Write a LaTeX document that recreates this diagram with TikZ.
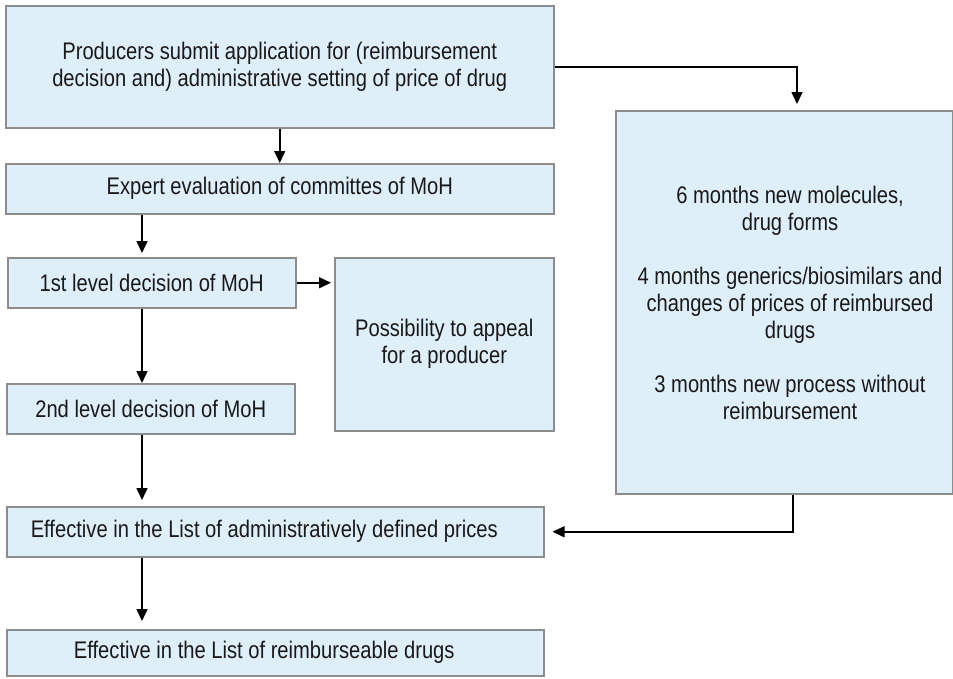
\documentclass[tikz,border=0pt]{standalone}
\usepackage{fontspec}
\setmainfont{Liberation Sans}[FakeStretch=0.84]
\usetikzlibrary{arrows.meta,calc}
\definecolor{boxfill}{RGB}{223,239,250}
\definecolor{boxline}{RGB}{140,140,140}
\definecolor{txt}{RGB}{25,25,25}
\begin{document}
\begin{tikzpicture}[x=1pt,y=-1pt,
  box/.style={draw=boxline, fill=boxfill, line width=1.5pt, inner sep=0pt,
    anchor=north west, align=center, text=txt,
    font=\fontsize{24}{27}\selectfont},
  plain/.style={inner sep=0pt, align=center, text=txt,
    font=\fontsize{24}{27}\selectfont},
  conn/.style={line width=1.5pt, -{Triangle[length=12pt,width=11pt]}}]
\useasboundingbox (0,0) rectangle (953,678);

\node[box, minimum width=548pt, minimum height=122pt] (b1) at (5,5)
  {Producers submit application for (reimbursement\\decision and) administrative setting of price of drug};
\node[box, minimum width=548pt, minimum height=50pt] (b2) at (5,163)
  {Expert evaluation of committes of MoH};
\node[box, minimum width=288pt, minimum height=50pt] (l1) at (7,257)
  {1st level decision of MoH};
\node[box, minimum width=219pt, minimum height=173pt] (ap) at (334,257)
  {Possibility to appeal\\for a producer};
\node[box, minimum width=288pt, minimum height=50pt] (l2) at (6,383)
  {2nd level decision of MoH};
\node[box, minimum width=537pt, minimum height=50pt] (ef) at (6,506)
  {\hspace*{-22pt}Effective in the List of administratively defined prices};
\node[box, minimum width=537pt, minimum height=46pt] (rd) at (6,629)
  {\hspace*{-22pt}Effective in the List of reimburseable drugs};
\node[box, minimum width=337pt, minimum height=383pt] (rt) at (615,110) {};
\node[plain] (rtx) at (790,303)
  {6 months new molecules,\\drug forms\\[27pt]4 months generics/biosimilars and\\changes of prices of reimbursed\\drugs\\[27pt]3 months new process without\\reimbursement};

\coordinate (colx) at (142,0);
\coordinate (ix) at (797,0);
\coordinate (ox) at (793,0);

\draw[conn] (b1.south) -- (b2.north);
\draw[conn] (b2.south -| colx) -- ($(l1.north -| colx)+(0,-4)$);
\draw[conn] (l1.south -| colx) -- (l2.north -| colx);
\draw[conn, shorten >=6pt] (l2.south -| colx) -- (ef.north -| colx);
\draw[conn, shorten >=8pt] (ef.south -| colx) -- (rd.north -| colx);
\draw[conn, shorten >=3pt] (l1.east) -- (ap.west |- l1.east);
\draw[conn, shorten >=6pt] (b1.east) -| (rt.north -| ix);
\draw[conn, shorten >=8pt] (rt.south -| ox) |- (ef.east);
\end{tikzpicture}
\end{document}
